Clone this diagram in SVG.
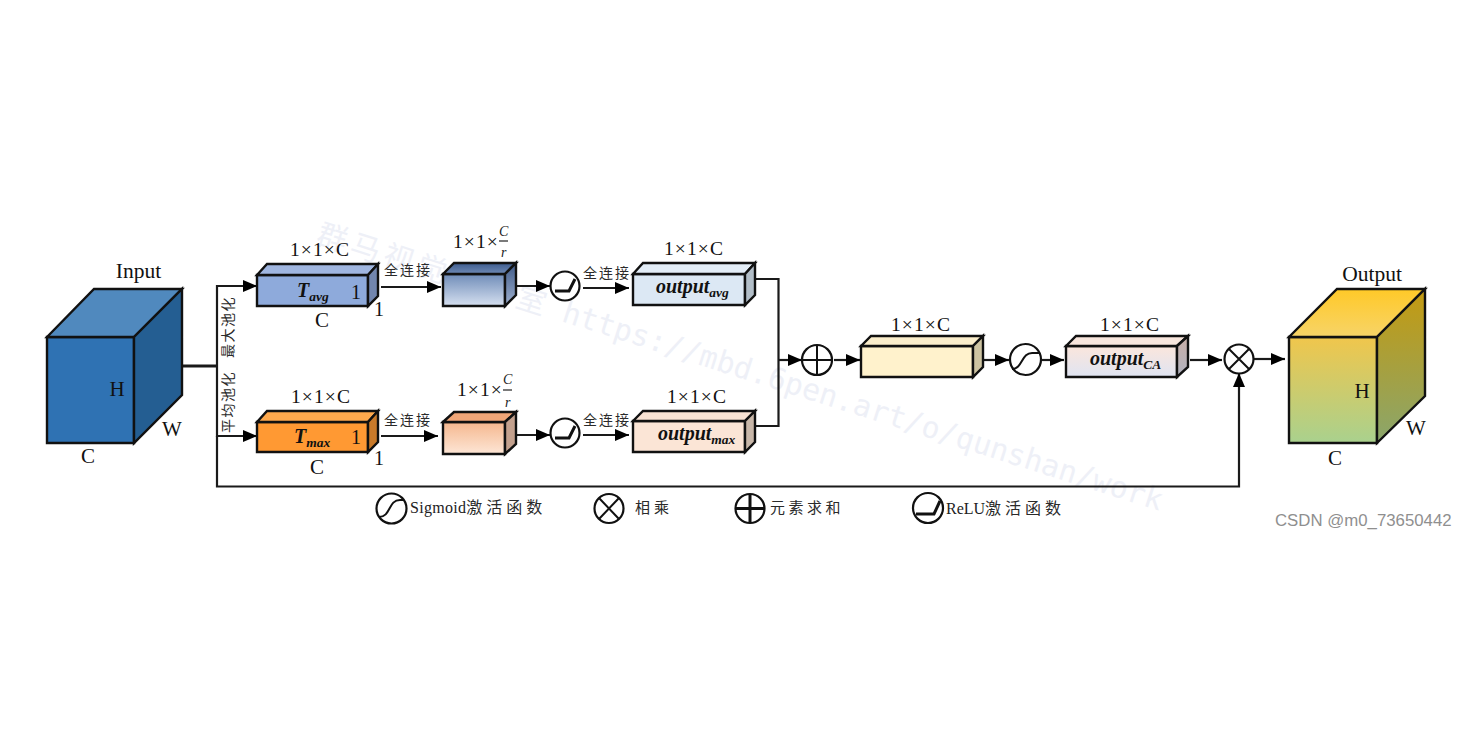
<svg xmlns="http://www.w3.org/2000/svg" width="1484" height="743" viewBox="0 0 1484 743">
<style>
.f{stroke:#111;stroke-width:2.4;stroke-linejoin:miter}
.t{font-family:"Liberation Serif","Noto Sans CJK SC",serif;fill:#111;font-size:19px}
.d{letter-spacing:1.1px;font-size:19.500px}
.c{text-anchor:middle}
.s{font-family:"Liberation Serif","Noto Sans CJK SC",serif;fill:#222;font-size:14px}
.cn{font-family:"Noto Sans CJK SC","Liberation Serif",serif;fill:#2a2a2a;font-size:14px}
.b{font-family:"Liberation Serif",serif;font-style:italic;font-weight:bold;fill:#111;font-size:19px}
.sub{font-size:13.500px}
.l{fill:none;stroke:#1a1a1a;stroke-width:2.2}
.o{fill:#fff;stroke:#111;stroke-width:2.2}
.i{fill:none;stroke:#111;stroke-width:2}
.r{fill:none;stroke:#111;stroke-width:3}
.fb{stroke:#222;stroke-width:1.2}
</style>
<defs>
<marker id="a" markerUnits="userSpaceOnUse" markerWidth="15" markerHeight="15" refX="14" refY="7.500" orient="auto"><path d="M0 1.500L14 7.500L0 13.500z" fill="#000"/></marker>
<linearGradient id="gb" x1="0" y1="0" x2="0" y2="1"><stop offset="0" stop-color="#6f8cb8"/><stop offset="1" stop-color="#d6e0f0"/></linearGradient>
<linearGradient id="gbt" x1="0" y1="0" x2="0" y2="1"><stop offset="0" stop-color="#3e5c8e"/><stop offset="1" stop-color="#6f8ab5"/></linearGradient>
<linearGradient id="gbs" x1="0" y1="0" x2="0" y2="1"><stop offset="0" stop-color="#3f5a88"/><stop offset="1" stop-color="#9fb1cf"/></linearGradient>
<linearGradient id="go" x1="0" y1="0" x2="0" y2="1"><stop offset="0" stop-color="#f5b78e"/><stop offset="1" stop-color="#fde6d6"/></linearGradient>
<linearGradient id="gca" x1="0" y1="0" x2="0" y2="1"><stop offset="0" stop-color="#fbe6dc"/><stop offset="1" stop-color="#dfe4f2"/></linearGradient>
<linearGradient id="gcs" x1="0" y1="0" x2="0" y2="1"><stop offset="0" stop-color="#c9aea6"/><stop offset="1" stop-color="#b0b3c0"/></linearGradient>
<linearGradient id="gyf" x1="0" y1="0" x2="0" y2="1"><stop offset="0" stop-color="#f0c64c"/><stop offset="1" stop-color="#a9d18e"/></linearGradient>
<linearGradient id="gyt" x1="0" y1="0" x2="0" y2="1"><stop offset="0" stop-color="#ffc928"/><stop offset="1" stop-color="#f7d468"/></linearGradient>
<linearGradient id="gys" x1="0" y1="0" x2="0" y2="1"><stop offset="0" stop-color="#c49a10"/><stop offset="1" stop-color="#8aa66c"/></linearGradient>
</defs>

<text id="watermark" transform="translate(315 243) rotate(17.6)" style="font-family:'DejaVu Sans Mono','Noto Sans CJK SC',monospace;font-size:29.800px;fill:#eef0f7"><tspan letter-spacing="5">群马视觉工作室</tspan><tspan dx="14">https://mbd.6pen.art/o/qunshan/work</tspan></text>

<g id="connectors">
<path class="l" d="M182 366H217" style="stroke-width:3.2"/>
<path class="l" marker-end="url(#a)" d="M217 366V286H257"/>
<path class="l" marker-end="url(#a)" d="M217 366V436H257"/>
<path class="l" marker-end="url(#a)" d="M217 436V486.500H1239V373"/>
<path class="l" marker-end="url(#a)" d="M381 287H441"/>
<path class="l" marker-end="url(#a)" d="M381 436H438"/>
<path class="l" marker-end="url(#a)" d="M516 286H550"/>
<path class="l" marker-end="url(#a)" d="M516 435H550"/>
<path class="l" marker-end="url(#a)" d="M583 288H629"/>
<path class="l" marker-end="url(#a)" d="M583 435H629"/>
<path class="l" d="M755 279H778.500V426H755"/>
<path class="l" marker-end="url(#a)" d="M778 360H802"/>
<path class="l" marker-end="url(#a)" d="M834 360H860"/>
<path class="l" marker-end="url(#a)" d="M983 360H1009"/>
<path class="l" marker-end="url(#a)" d="M1042 360H1064"/>
<path class="l" marker-end="url(#a)" d="M1190 360H1222"/>
<path class="l" marker-end="url(#a)" d="M1254 359H1285"/>
<text class="cn" transform="translate(232.500 358) rotate(-90)" letter-spacing="1.500">最大池化</text>
<text class="cn" transform="translate(232.500 433) rotate(-90)" letter-spacing="1.500">平均池化</text>
<text class="cn" x="384" y="275" letter-spacing="2">全连接</text>
<text class="cn" x="384" y="425" letter-spacing="2">全连接</text>
<text class="cn" x="583" y="278" letter-spacing="2">全连接</text>
<text class="cn" x="583" y="425" letter-spacing="2">全连接</text>
</g>

<g id="input">
<path class="f" fill="#2f72b3" d="M47 337H134V443H47z"/>
<path class="f" fill="#5089be" d="M47 337L94 289H182L134 337z"/>
<path class="f" fill="#245e92" d="M134 337L182 289V395L134 443z"/>
<text class="t c" x="138.500" y="278" style="font-size:21.500px">Input</text>
<text class="t c" x="117" y="396" style="font-size:21px">H</text>
<text class="t c" x="172" y="436" style="font-size:21px">W</text>
<text class="t c" x="88" y="463" style="font-size:21px">C</text>
</g>

<g id="tavg">
<path class="f" fill="#8eaadb" d="M257 275H368V306H257z"/>
<path class="f" fill="#a0b6e0" d="M257 275L267 264H378L368 275z"/>
<path class="f" fill="#7286ae" d="M368 275L378 264V296L368 306z"/>
<text class="t d c" x="320" y="256">1×1×C</text>
<text class="b" x="297" y="297" style="font-size:20px">T<tspan class="sub" dy="4">avg</tspan></text>
<text class="t" x="351" y="299" style="font-size:20px">1</text>
<text class="t c" x="322" y="327" style="font-size:21px">C</text>
<text class="t" x="374" y="316" style="font-size:20px">1</text>
</g>

<g id="tmax">
<path class="f" fill="#ff9933" d="M257 422H368V452H257z"/>
<path class="f" fill="#ffa94d" d="M257 422L267 411H378L368 422z"/>
<path class="f" fill="#c97a2a" d="M368 422L378 411V442L368 452z"/>
<text class="t d c" x="321" y="403">1×1×C</text>
<text class="b" x="294" y="443" style="font-size:20px">T<tspan class="sub" dy="4">max</tspan></text>
<text class="t" x="351" y="444" style="font-size:20px">1</text>
<text class="t c" x="317" y="474" style="font-size:21px">C</text>
<text class="t" x="374" y="465" style="font-size:20px">1</text>
</g>

<g id="blue-reduced">
<path class="f" fill="url(#gb)" d="M443 274H505V306H443z"/>
<path class="f" fill="url(#gbt)" d="M443 274L454 263H516L505 274z"/>
<path class="f" fill="url(#gbs)" d="M505 274L516 263V295L505 306z"/>
<text class="t d" x="453" y="248">1×1×</text>
<text class="s" x="499" y="236" font-style="italic" style="font-size:14px">C</text>
<path class="fb" d="M499 241H508"/>
<text class="s" x="501" y="257" font-style="italic" style="font-size:14px">r</text>
</g>

<g id="orange-reduced">
<path class="f" fill="url(#go)" d="M443 422H505V454H443z"/>
<path class="f" fill="#f0a678" d="M443 422L454 412H516L505 422z"/>
<path class="f" fill="#c3a18e" d="M505 422L516 412V444L505 454z"/>
<text class="t d" x="457" y="396">1×1×</text>
<text class="s" x="503" y="384" font-style="italic" style="font-size:14px">C</text>
<path class="fb" d="M503 390H512"/>
<text class="s" x="505" y="407" font-style="italic" style="font-size:14px">r</text>
</g>

<g id="relu-top"><circle class="o" cx="565" cy="286" r="14.500"/><path class="r" d="M555 291H569L575 279"/></g>
<g id="relu-bottom"><circle class="o" cx="565" cy="433" r="14.500"/><path class="r" d="M555 438H569L575 426"/></g>

<g id="output-avg">
<path class="f" fill="#dce8f4" d="M633 274H745V305H633z"/>
<path class="f" fill="#e3edf7" d="M633 274L643 263H755L745 274z"/>
<path class="f" fill="#b2bec8" d="M745 274L755 263V295L745 305z"/>
<text class="t d c" x="694" y="255">1×1×C</text>
<text class="b" x="656" y="293" style="font-size:20px">output<tspan class="sub" dy="4">avg</tspan></text>
</g>

<g id="output-max">
<path class="f" fill="#fbe5d6" d="M633 421H745V452H633z"/>
<path class="f" fill="#f8e2d3" d="M633 421L643 411H755L745 421z"/>
<path class="f" fill="#c8b7a9" d="M745 421L755 411V442L745 452z"/>
<text class="t d c" x="697" y="403">1×1×C</text>
<text class="b" x="658" y="440" style="font-size:20px">output<tspan class="sub" dy="4">max</tspan></text>
</g>

<g id="add"><circle class="o" cx="817" cy="360" r="15"/><path class="i" d="M802 360H832M817 345V375"/></g>

<g id="merged">
<path class="f" fill="#fff2cc" d="M861 346H973V377H861z"/>
<path class="f" fill="#fbeecb" d="M861 346L871 336H983L973 346z"/>
<path class="f" fill="#cec4a2" d="M973 346L983 336V367L973 377z"/>
<text class="t d c" x="921" y="331">1×1×C</text>
</g>

<g id="sigmoid"><circle class="o" cx="1025.500" cy="359.500" r="15.500"/><path class="i" d="M1012 369C1023 369 1021 352 1033 353H1039"/></g>

<g id="output-ca">
<path class="f" fill="url(#gca)" d="M1066 346H1177V377H1066z"/>
<path class="f" fill="#f8e6dd" d="M1066 346L1076 336H1188L1177 346z"/>
<path class="f" fill="url(#gcs)" d="M1177 346L1188 336V367L1177 377z"/>
<text class="t d c" x="1130" y="331">1×1×C</text>
<text class="b" x="1090" y="365" style="font-size:20px">output<tspan class="sub" dy="4">CA</tspan></text>
</g>

<g id="multiply"><circle class="o" cx="1239" cy="359" r="14.500"/><path class="i" d="M1229 349L1249 369M1249 349L1229 369"/></g>

<g id="output">
<path class="f" fill="url(#gyf)" d="M1289 337H1377V443H1289z"/>
<path class="f" fill="url(#gyt)" d="M1289 337L1337 289H1425L1377 337z"/>
<path class="f" fill="url(#gys)" d="M1377 337L1425 289V396L1377 443z"/>
<text class="t c" x="1372" y="281" style="font-size:21.500px">Output</text>
<text class="t c" x="1362" y="398" style="font-size:21px">H</text>
<text class="t c" x="1416" y="435" style="font-size:21px">W</text>
<text class="t c" x="1335" y="465" style="font-size:21px">C</text>
</g>

<g id="legend">
<circle class="o" cx="391.500" cy="508.500" r="15"/><path class="i" d="M379 517C391 517 388 500 400 500H404"/>
<text class="s" x="410" y="513" style="font-size:16px" letter-spacing="0.300">Sigmoid<tspan class="cn" style="font-size:16px;letter-spacing:4px">激活函数</tspan></text>
<circle class="o" cx="609" cy="508.500" r="14.500"/><path class="i" d="M599 498L619 519M619 498L599 519"/>
<text class="cn" x="635" y="513" style="font-size:15px;letter-spacing:4px">相乘</text>
<circle class="o" cx="750" cy="508.500" r="14.500"/><path class="r" d="M735.500 508.500H764.500M750 494V523"/>
<text class="cn" x="770" y="512.500" style="font-size:15px;letter-spacing:3.500px">元素求和</text>
<circle class="o" cx="928" cy="508" r="15"/><path class="r" d="M916 514H934L940 501"/>
<text class="s" x="946" y="513.500" style="font-size:16px">ReLU<tspan class="cn" style="font-size:16px;letter-spacing:4px">激活函数</tspan></text>
</g>

<text id="csdn" x="1275" y="526" style="font-family:'Liberation Sans',sans-serif;font-size:16.800px;fill:#8f8f8f">CSDN @m0_73650442</text>
</svg>
